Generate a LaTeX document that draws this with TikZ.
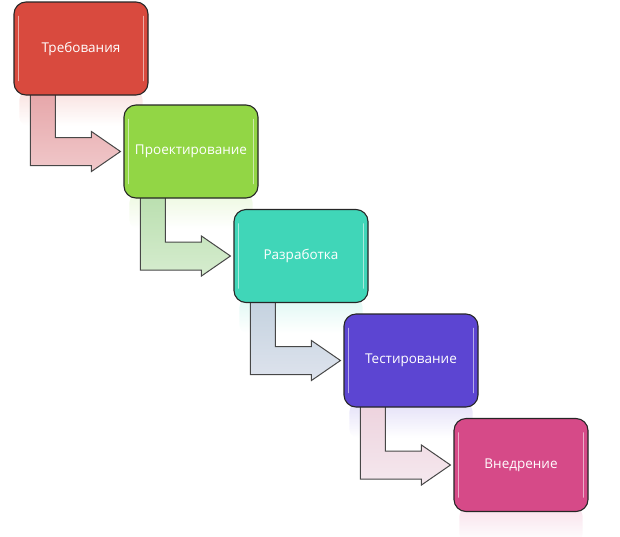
\documentclass[tikz,border=0pt]{standalone}
\usepackage{fontspec}
\setmainfont{Open Sans}
\usetikzlibrary{calc,fadings}
\pgfdeclarelayer{bg}
\pgfsetlayers{bg,main}
\definecolor{cRed}{HTML}{D94A3E}
\definecolor{cGreen}{HTML}{92D645}
\definecolor{cTeal}{HTML}{40D6B8}
\definecolor{cPurple}{HTML}{5C45D2}
\definecolor{cPink}{HTML}{D64A88}
\definecolor{aRedT}{HTML}{E6A6A9}
\definecolor{aRedB}{HTML}{F0C8CA}
\definecolor{aGreenT}{HTML}{BADFAF}
\definecolor{aGreenB}{HTML}{D6ECCF}
\definecolor{aBlueT}{HTML}{C4D2DF}
\definecolor{aBlueB}{HTML}{DEE3ED}
\definecolor{aPinkT}{HTML}{EDD3DE}
\definecolor{aPinkB}{HTML}{F5E8EE}
\definecolor{edge}{HTML}{262626}
\tikzset{
  stagebox/.style={draw=edge, line width=1.1pt, rounded corners=12pt,
    minimum width=134pt, minimum height=93pt, inner sep=0pt,
    text=white, font=\fontsize{13.5}{15}\selectfont},
  bentarrow/.style={draw=edge!85, line width=1pt, line join=miter},
  gloss/.style={white, opacity=0.55, line width=1.6pt, line cap=round},
}
\newcommand{\stagedeco}[2]{%
  \begin{pgfonlayer}{bg}
    \fill[#2, opacity=0.16, path fading=south, rounded corners=8pt] ($(#1.south west)+(6,-4)$) rectangle ($(#1.south east)+(-6,30)$);
  \end{pgfonlayer}
  \draw[gloss] ($(#1.north west)+(5,15)$) -- ($(#1.south west)+(5,-15)$);
  \draw[gloss] ($(#1.north east)+(-5,15)$) -- ($(#1.south east)+(-5,-15)$);
}
\newcommand{\bent}[4]{%
  \begin{pgfonlayer}{bg}
    \coordinate (A) at ($(#1.south west)+(17,-3)$);
    \coordinate (T) at ($(#2.west)+(-3,0)$);
    \path[bentarrow, top color=#3, bottom color=#4]
      (A) -- ++(25,0) |- ($(T)+(-29,-14)$) -- ($(T)+(-29,-20)$) -- (T)
      -- ($(T)+(-29,20)$) -- ($(T)+(-29,14)$) -| cycle;
  \end{pgfonlayer}
}
\begin{document}
\begin{tikzpicture}[x=1pt,y=-1pt]
\useasboundingbox (0,0) rectangle (620,536);
\node[stagebox, fill=cRed]    (s1) at (81,48.5)  {Требования};
\node[stagebox, fill=cGreen]  (s2) at (191,151.5) {Проектирование};
\node[stagebox, fill=cTeal]   (s3) at (301,256) {Разработка};
\node[stagebox, fill=cPurple] (s4) at (411,360.5) {Тестирование};
\node[stagebox, fill=cPink]   (s5) at (521,465) {Внедрение};
\stagedeco{s1}{cRed}
\stagedeco{s2}{cGreen}
\stagedeco{s3}{cTeal}
\stagedeco{s4}{cPurple}
\stagedeco{s5}{cPink}
\bent{s1}{s2}{aRedT}{aRedB}
\bent{s2}{s3}{aGreenT}{aGreenB}
\bent{s3}{s4}{aBlueT}{aBlueB}
\bent{s4}{s5}{aPinkT}{aPinkB}
\end{tikzpicture}
\end{document}
